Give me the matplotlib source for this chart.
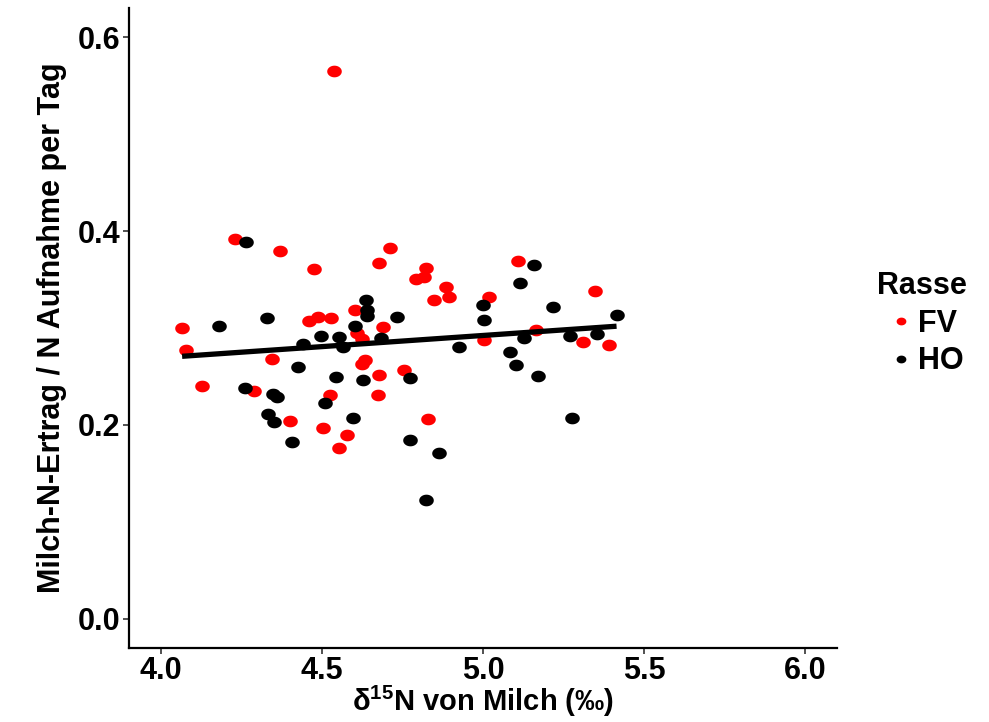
import numpy as np
import matplotlib
matplotlib.use("Agg")
import matplotlib.pyplot as plt
from matplotlib.lines import Line2D

# ====== Data ======
fv_x = [4.230, 4.369, 4.474, 4.678, 4.603, 4.458, 4.487, 4.527, 4.065, 4.688,
        4.608, 4.623, 4.078, 4.343, 4.632, 4.624, 4.678, 4.127, 4.287, 4.673,
        4.524, 4.400, 4.504, 4.578, 4.551, 4.710, 4.824, 4.791, 4.817, 4.884,
        4.895, 4.848, 5.109, 5.020, 5.165, 5.003, 5.349, 5.310, 5.391, 4.755,
        4.830, 4.538]
fv_y = [0.392, 0.379, 0.361, 0.367, 0.319, 0.307, 0.311, 0.310, 0.300, 0.301,
        0.295, 0.289, 0.277, 0.268, 0.267, 0.263, 0.252, 0.240, 0.235, 0.231,
        0.231, 0.204, 0.197, 0.190, 0.176, 0.383, 0.362, 0.351, 0.353, 0.342,
        0.332, 0.329, 0.369, 0.332, 0.298, 0.288, 0.338, 0.286, 0.282, 0.257,
        0.206, 0.565]

ho_x = [4.264, 4.635, 4.640, 4.640, 4.329, 4.180, 4.602, 4.498, 4.552, 4.683,
        4.440, 4.566, 4.424, 4.542, 4.627, 4.259, 4.348, 4.359, 4.510, 4.331,
        4.351, 4.597, 4.405, 5.159, 5.116, 5.000, 5.003, 5.217, 5.415, 4.733,
        4.925, 5.127, 5.270, 5.355, 5.083, 5.104, 5.170, 4.774, 5.278, 4.773,
        4.863, 4.822]
ho_y = [0.389, 0.329, 0.319, 0.312, 0.310, 0.302, 0.302, 0.292, 0.291, 0.290,
        0.283, 0.280, 0.260, 0.249, 0.246, 0.238, 0.232, 0.229, 0.223, 0.211,
        0.203, 0.207, 0.182, 0.365, 0.346, 0.324, 0.308, 0.322, 0.313, 0.311,
        0.280, 0.290, 0.292, 0.294, 0.275, 0.262, 0.250, 0.248, 0.207, 0.184,
        0.171, 0.123]

groups = ["FV", "HO"]
colors = {"FV": "#ff0000", "HO": "#000000"}
FS = 22

plt.rcParams["font.family"] = ["Liberation Sans", "DejaVu Sans"]
plt.rcParams["font.weight"] = "bold"
plt.rcParams["mathtext.fontset"] = "custom"
plt.rcParams["mathtext.rm"] = "Liberation Sans:bold"
plt.rcParams["mathtext.bf"] = "Liberation Sans:bold"

# slightly wide ellipse marker, like the stretched ggplot points
t = np.linspace(0, 2 * np.pi, 60)
ellipse = np.column_stack([1.25 * np.cos(t), np.sin(t)])

fig = plt.figure(figsize=(9.89, 7.22), dpi=100)
ax = fig.add_axes([129 / 989, 74 / 722, 708 / 989, 640 / 722])

ax.scatter(fv_x, fv_y, marker=ellipse, s=10.5 ** 2, color=colors["FV"],
           linewidths=0, zorder=3)
ax.scatter(ho_x, ho_y, marker=ellipse, s=10.5 ** 2, color=colors["HO"],
           linewidths=0, zorder=3)

# linear fit over all animals
all_x = np.array(fv_x + ho_x)
all_y = np.array(fv_y + ho_y)
slope, icpt = np.polyfit(all_x, all_y, 1)
xs = np.array([all_x.min(), all_x.max()])
ax.plot(xs, slope * xs + icpt, color="black", lw=3.8, solid_capstyle="butt",
        zorder=4)

ax.set_xlim(3.9, 6.1)
ax.set_ylim(-0.03, 0.63)
ax.set_xticks([4.0, 4.5, 5.0, 5.5, 6.0])
ax.set_yticks([0.0, 0.2, 0.4, 0.6])
ax.set_xticklabels(["4.0", "4.5", "5.0", "5.5", "6.0"])
ax.set_yticklabels(["0.0", "0.2", "0.4", "0.6"])

for side in ["top", "right"]:
    ax.spines[side].set_visible(False)
for side in ["left", "bottom"]:
    ax.spines[side].set_linewidth(1.6)
    ax.spines[side].set_color("black")
ax.tick_params(axis="both", length=4, width=1.2, color="#333333",
               labelsize=FS, labelcolor="black", pad=2)
for lab in ax.get_xticklabels() + ax.get_yticklabels():
    lab.set_fontweight("bold")

ax.set_xlabel(r"δ$^{15}$N von Milch (‰)", fontsize=FS - 1, fontweight="bold",
              labelpad=-2)
ax.set_ylabel("Milch-N-Ertrag / N Aufnahme per Tag", fontsize=FS,
              fontweight="bold", labelpad=8)

handles = [Line2D([], [], marker=ellipse, linestyle="none", markersize=7,
                  markerfacecolor=colors[g], markeredgewidth=0) for g in groups]
leg = fig.legend(handles, groups, title="Rasse", loc="upper left",
                 bbox_to_anchor=(868 / 989, 1 - 262 / 722), frameon=False,
                 fontsize=FS, title_fontsize=FS, handlelength=1.55,
                 handletextpad=-0.2, labelspacing=0.25, alignment="left",
                 borderaxespad=0, borderpad=0.3)
leg.get_title().set_fontweight("bold")
for txt in leg.get_texts():
    txt.set_fontweight("bold")

fig.savefig("out.png", dpi=100)
